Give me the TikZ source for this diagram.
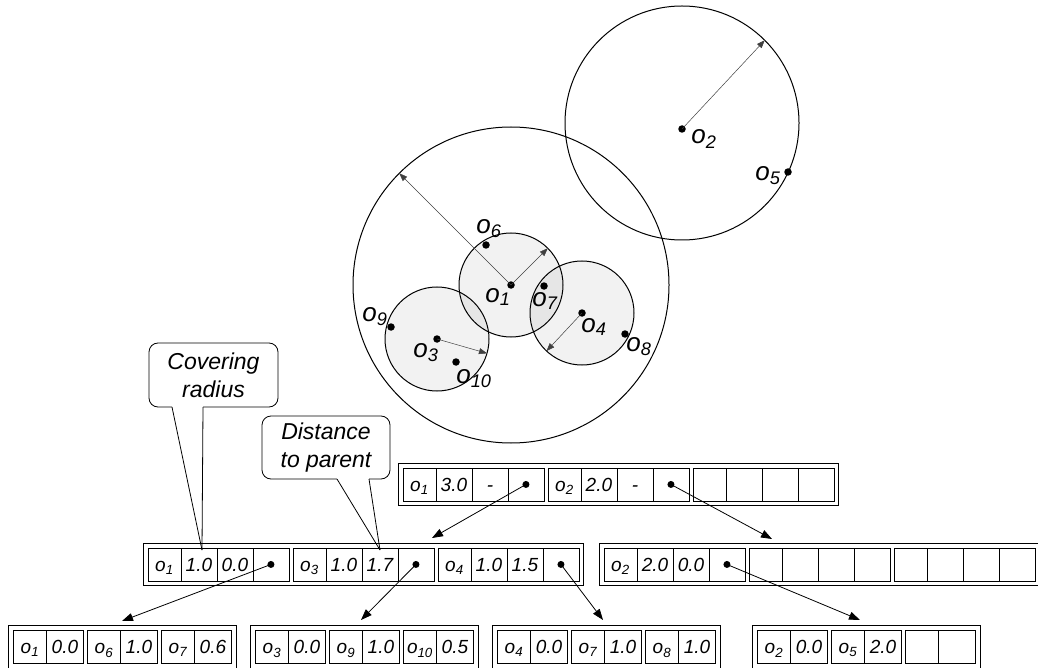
\documentclass[tikz,border=0pt]{standalone}
\usepackage{fontspec}
\setmainfont{Liberation Sans}
\usetikzlibrary{matrix,arrows.meta}

\begin{document}
\begin{tikzpicture}[x=1pt,y=-1pt]
\tikzstyle{cell} = [draw, line width=0.9pt, minimum width=36pt, minimum height=33pt,
    inner sep=0pt, outer sep=0pt, anchor=center, text height=13.5pt, text depth=0pt,
    font=\fontsize{19}{19}\selectfont\itshape]
\tikzstyle{ocell} = [cell, minimum width=33pt]
\tikzstyle{tnode} = [matrix of nodes, draw, line width=0.9pt, inner sep=4.5pt, outer sep=0pt,
    column sep=-0.9pt, nodes in empty cells, nodes={cell}, anchor=north west]
\tikzstyle{leaf} = [tnode, inner sep=5pt, nodes={minimum width=37pt}]
\tikzstyle{ptrdot} = [circle, fill, minimum size=7pt, inner sep=0pt]
\tikzstyle{ptr} = [-{Triangle[length=11pt,width=8pt]}, line width=0.8pt]
\tikzstyle{radius} = [-{Triangle[length=8pt,width=6pt]}, line width=0.5pt, black!75]
\tikzstyle{region} = [circle, draw, line width=1pt, inner sep=0pt, outer sep=0pt]
\tikzstyle{ball} = [region, fill=black, fill opacity=0.05, minimum size=104pt]
\tikzstyle{objdot} = [circle, fill, minimum size=7.5pt, inner sep=0pt]
\tikzstyle{obj} = [inner sep=0pt, font=\fontsize{26}{26}\selectfont\itshape]
\tikzstyle{callout} = [draw, rounded corners=9pt, line width=0.8pt, align=center,
    inner sep=0pt, font=\fontsize{23}{28}\selectfont\itshape]
\useasboundingbox (0,0) rectangle (1038,668);

% covering regions
\node[region, minimum size=234pt] (cr2) at (682,123) {};
\node[region, minimum size=316pt] (cr1) at (511,285) {};
\node[ball] (cs1) at (511,285) {};
\node[ball] (cs3) at (437,339) {};
\node[ball] (cs4) at (582,313) {};

% objects
\node[objdot] (o1) at (511,285) {};
\node[objdot] (o2) at (682,129) {};
\node[objdot] (o3) at (437,339) {};
\node[objdot] (o4) at (582,313) {};
\node[objdot] (o5) at (788,172) {};
\node[objdot] (o6) at (486,245) {};
\node[objdot] (o7) at (544,286) {};
\node[objdot] (o8) at (625,334) {};
\node[objdot] (o9) at (391,327) {};
\node[objdot] (o10) at (456,362) {};
\node[obj] (l1) at (498,297) {o\textsubscript{1}};
\node[obj] (l2) at (704,139) {o\textsubscript{2}};
\node[obj] (l3) at (426,353) {o\textsubscript{3}};
\node[obj] (l4) at (594,327) {o\textsubscript{4}};
\node[obj] (l5) at (768,176) {o\textsubscript{5}};
\node[obj] (l6) at (489,229) {o\textsubscript{6}};
\node[obj] (l7) at (545,301) {o\textsubscript{7}};
\node[obj] (l8) at (639,347) {o\textsubscript{8}};
\node[obj] (l9) at (375,317) {o\textsubscript{9}};
\node[obj] (l10) at (474,379) {o\textsubscript{10}};

% radii
\draw[radius] (o1.center) -- (cr1.135);
\draw[radius] (o1.center) -- (cs1.45);
\draw[radius] (o3.center) -- (cs3.-16);
\draw[radius] (o4.center) -- (cs4.227);
\draw[radius] (o2.center) -- (cr2.45);

% tree nodes
\matrix (root) [tnode] at (398,463) {
 |[ocell]| o\textsubscript{1} & 3.0 & - & &[4pt] |[ocell]| o\textsubscript{2} & 2.0 & - & &[4pt] |[ocell]| & & & \\
};
\matrix (mid1) [tnode] at (143,543) {
 |[ocell]| o\textsubscript{1} & 1.0 & 0.0 & &[4pt] |[ocell]| o\textsubscript{3} & 1.0 & 1.7 & &[4pt] |[ocell]| o\textsubscript{4} & 1.0 & 1.5 & \\
};
\matrix (mid2) [tnode] at (599,543) {
 |[ocell]| o\textsubscript{2} & 2.0 & 0.0 & &[4pt] |[ocell]| & & & &[4pt] |[ocell]| & & & \\
};
\matrix (leaf1) [leaf] at (8,625) {
 |[ocell]| o\textsubscript{1} & 0.0 &[4pt] |[ocell]| o\textsubscript{6} & 1.0 &[4pt] |[ocell]| o\textsubscript{7} & 0.6 \\
};
\matrix (leaf2) [leaf] at (250,625) {
 |[ocell]| o\textsubscript{3} & 0.0 &[4pt] |[ocell]| o\textsubscript{9} & 1.0 &[4pt] |[ocell]| o\textsubscript{10} & 0.5 \\
};
\matrix (leaf3) [leaf] at (492,625) {
 |[ocell]| o\textsubscript{4} & 0.0 &[4pt] |[ocell]| o\textsubscript{7} & 1.0 &[4pt] |[ocell]| o\textsubscript{8} & 1.0 \\
};
\matrix (leaf4) [leaf] at (752,625) {
 |[ocell]| o\textsubscript{2} & 0.0 &[4pt] |[ocell]| o\textsubscript{5} & 2.0 &[4pt] |[ocell]| & \\
};

% child pointers
\node[ptrdot] (p1) at (root-1-4) {};
\node[ptrdot] (p2) at (root-1-8) {};
\node[ptrdot] (p3) at (mid1-1-4) {};
\node[ptrdot] (p4) at (mid1-1-8) {};
\node[ptrdot] (p5) at (mid1-1-12) {};
\node[ptrdot] (p6) at (mid2-1-4) {};
\coordinate (t1) at (432,538);
\coordinate (t2) at (772,539);
\coordinate (t3) at (122,621);
\coordinate (t4) at (361,620);
\coordinate (t5) at (603,620);
\coordinate (t6) at (860,620);
\draw[ptr] (p1.center) -- (t1);
\draw[ptr] (p2.center) -- (t2);
\draw[ptr] (p3.center) -- (t3);
\draw[ptr] (p4.center) -- (t4);
\draw[ptr] (p5.center) -- (t5);
\draw[ptr] (p6.center) -- (t6);

% callouts
\node[callout, minimum width=129pt, minimum height=64pt] (cover) at (213.5,375) {Covering\\radius};
\node[callout, minimum width=128pt, minimum height=63pt] (dist) at (326,447.5) {Distance\\to parent};
\coordinate (cover l) at (172,407);
\coordinate (cover r) at (203,407);
\coordinate (cover tip) at (202,550);
\coordinate (dist l) at (337,479);
\coordinate (dist r) at (369,479);
\coordinate (dist tip) at (380,550);
\draw[white, line width=1.6pt] (cover l) -- (cover r);
\draw[white, line width=1.6pt] (dist l) -- (dist r);
\draw[line width=0.8pt] (cover tip) -- (cover l);
\draw[line width=0.8pt] (cover tip) -- (cover r);
\draw[line width=0.8pt] (dist tip) -- (dist l);
\draw[line width=0.8pt] (dist tip) -- (dist r);
\end{tikzpicture}
\end{document}
